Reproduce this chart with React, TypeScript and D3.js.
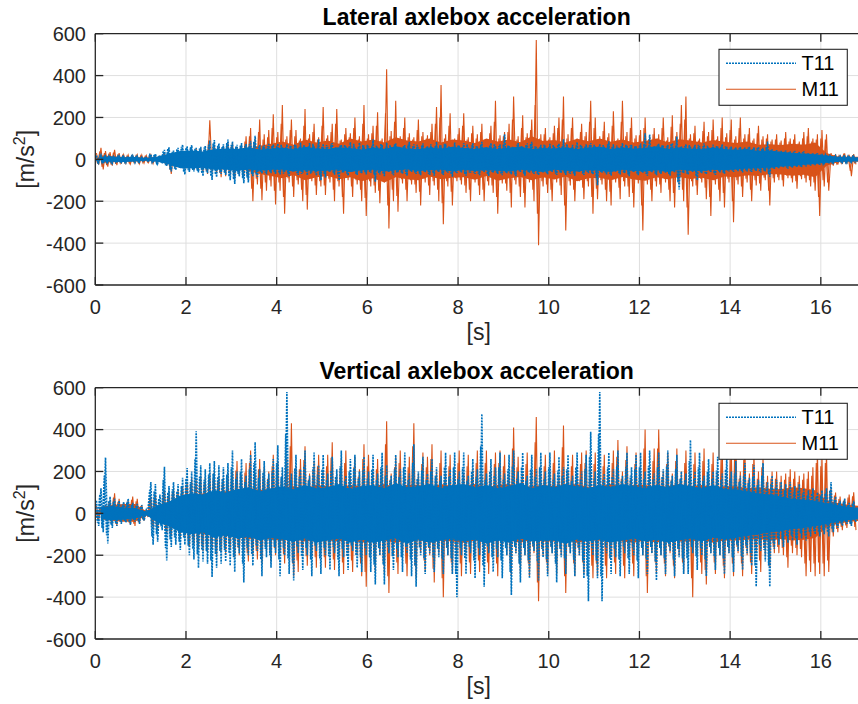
import React from 'react';
import * as d3 from 'd3';

// ---------- data ----------
const X_TICKS = [0, 2, 4, 6, 8, 10, 12, 14, 16];
const Y_TICKS = [-600, -400, -200, 0, 200, 400, 600];
const SERIES_NAMES = ['T11', 'M11'];
const PANEL_TITLES = ['Lateral axlebox acceleration', 'Vertical axlebox acceleration'];
const BIN = 0.1; // peak / mid arrays: per 0.1 s
const CORE_BIN = 0.25; // core arrays: dense band per 0.25 s

// peaks (max / min per 0.1 s)
const LAT_T11_UP = [
  18, 20, 15, 17, 14, 16, 13, 15, 17, 14,
  10, 8, 24, 27, 12, 45, 58, 42, 55, 70,
  62, 68, 55, 60, 64, 90, 92, 76, 72, 95,
  85, 70, 78, 74, 88, 112, 70, 68, 74, 72,
  75, 58, 72, 62, 66, 80, 56, 78, 62, 96,
  74, 60, 78, 55, 70, 64, 82, 58, 80, 66,
  62, 96, 58, 68, 80, 60, 76, 56, 68, 84,
  72, 58, 76, 64, 60, 82, 66, 74, 58, 80,
  66, 78, 58, 76, 62, 84, 60, 78, 64, 72,
  120, 64, 58, 78, 62, 76, 84, 60, 70, 66,
  74, 60, 76, 96, 58, 70, 82, 64, 72, 78,
  62, 74, 60, 86, 72, 58, 78, 66, 70, 64,
  76, 125, 118, 62, 74, 66, 70, 78, 109, 64,
  72, 60, 70, 64, 76, 58, 70, 62, 72, 60,
  62, 58, 60, 56, 62, 58, 60, 55, 85, 48,
  44, 40, 42, 38, 40, 36, 38, 30, 28, 30,
  26, 22, 18, 16, 15, 14, 16, 14,
];
const LAT_T11_LO = [
  -16, -19, -14, -18, -15, -13, -16, -12, -15, -13,
  -9, -7, -16, -20, -11, -32, -58, -52, -40, -72,
  -60, -58, -62, -80, -66, -98, -85, -70, -75, -100,
  -118, -82, -114, -110, -80, -84, -68, -72, -66, -70,
  -72, -60, -80, -58, -74, -64, -76, -62, -78, -100,
  -86, -60, -74, -100, -62, -78, -58, -74, -66, -72,
  -64, -107, -72, -80, -60, -76, -62, -70, -78, -60,
  -70, -76, -62, -74, -78, -60, -74, -64, -83, -66,
  -62, -78, -64, -70, -76, -60, -80, -64, -70, -76,
  -66, -72, -80, -60, -78, -64, -70, -76, -62, -72,
  -60, -74, -66, -75, -70, -78, -62, -74, -66, -72,
  -123, -64, -72, -78, -60, -72, -66, -80, -62, -76,
  -64, -78, -62, -76, -70, -64, -78, -62, -144, -66,
  -74, -62, -100, -66, -72, -60, -74, -62, -70, -58,
  -60, -56, -62, -58, -60, -56, -62, -58, -83, -46,
  -42, -38, -44, -40, -36, -38, -34, -30, -28, -26,
  -24, -20, -16, -15, -14, -16, -13, -15,
];
const LAT_M11_UP = [
  30, 55, 40, 35, 45, 30, 22, 20, 18, 22,
  20, 18, 22, 15, 14, 25, 30, 28, 35, 32,
  40, 45, 50, 55, 48, 186, 70, 60, 65, 80,
  80, 60, 70, 110, 150, 100, 190, 120, 140, 215,
  130, 260, 110, 190, 140, 100, 240, 120, 170, 105,
  250, 115, 170, 240, 95, 150, 125, 200, 110, 260,
  120, 160, 225, 100, 430, 135, 280, 110, 200, 125,
  105, 190, 130, 115, 170, 250, 355, 120, 220, 100,
  150, 220, 105, 160, 120, 170, 95, 160, 280, 115,
  130, 170, 300, 110, 210, 125, 190, 570, 120, 150,
  105, 160, 200, 300, 120, 200, 100, 170, 130, 280,
  200, 110, 180, 125, 230, 100, 280, 130, 200, 115,
  140, 200, 110, 150, 120, 200, 105, 210, 130, 260,
  300, 120, 160, 100, 180, 130, 190, 110, 200, 125,
  190, 110, 200, 120, 150, 100, 160, 110, 120, 95,
  120, 90, 130, 100, 120, 85, 130, 150, 100, 120,
  140, 120, 30, 25, 20, 28, 22, 25,
];
const LAT_M11_LO = [
  -25, -48, -35, -30, -28, -20, -18, -22, -16, -20,
  -18, -15, -20, -14, -12, -30, -70, -40, -35, -45,
  -45, -50, -55, -60, -70, -60, -65, -85, -80, -75,
  -90, -70, -80, -100, -200, -120, -195, -150, -130, -215,
  -150, -260, -110, -180, -120, -200, -240, -105, -170, -130,
  -170, -110, -200, -130, -260, -100, -180, -120, -200, -270,
  -130, -160, -210, -110, -330, -200, -250, -115, -200, -120,
  -160, -220, -110, -170, -125, -200, -310, -130, -220, -105,
  -120, -160, -200, -110, -170, -200, -125, -160, -260, -115,
  -150, -230, -120, -180, -230, -110, -200, -410, -130, -160,
  -200, -110, -170, -340, -125, -200, -105, -190, -130, -260,
  -190, -120, -200, -220, -110, -190, -130, -180, -230, -115,
  -340, -120, -200, -130, -160, -110, -200, -230, -120, -200,
  -360, -130, -170, -110, -190, -270, -120, -200, -230, -110,
  -300, -120, -180, -110, -200, -125, -150, -100, -220, -110,
  -100, -130, -90, -110, -140, -95, -110, -130, -150, -270,
  -130, -150, -30, -25, -22, -20, -80, -24,
];
const VER_T11_UP = [
  60, 120, 267, 80, 70, 60, 55, 70, 50, 45,
  40, 15, 150, 140, 90, 222, 130, 150, 140, 170,
  216, 200, 392, 230, 210, 240, 250, 230, 220, 240,
  300, 200, 260, 180, 280, 340, 210, 250, 190, 260,
  325, 220, 580, 190, 280, 210, 300, 180, 290, 230,
  280, 190, 270, 210, 300, 180, 260, 280, 200, 270,
  200, 280, 190, 290, 230, 180, 280, 210, 290, 190,
  330, 200, 270, 190, 260, 220, 180, 290, 210, 290,
  200, 290, 180, 260, 210, 475, 190, 260, 220, 290,
  190, 280, 300, 200, 290, 180, 280, 210, 290, 200,
  290, 190, 270, 220, 280, 180, 290, 200, 280, 390,
  200, 580, 190, 290, 210, 300, 180, 290, 220, 280,
  290, 200, 300, 190, 290, 210, 300, 180, 280, 200,
  190, 350, 200, 290, 180, 260, 200, 270, 190, 280,
  200, 250, 180, 240, 170, 230, 160, 240, 150, 180,
  160, 150, 140, 150, 130, 140, 120, 110, 120, 100,
  110, 120, 150, 80, 60, 70, 50, 60,
];
const VER_T11_LO = [
  -60, -90, -144, -70, -60, -50, -45, -55, -40, -50,
  -35, -15, -150, -135, -80, -225, -160, -150, -175, -150,
  -200, -220, -261, -230, -240, -304, -260, -240, -230, -250,
  -280, -190, -330, -200, -250, -180, -300, -210, -260, -190,
  -300, -200, -290, -320, -190, -270, -200, -300, -180, -290,
  -200, -270, -190, -300, -210, -270, -180, -260, -280, -200,
  -280, -340, -200, -340, -190, -270, -210, -280, -190, -300,
  -350, -200, -290, -190, -280, -210, -290, -200, -290, -400,
  -200, -290, -190, -310, -200, -350, -190, -280, -210, -310,
  -200, -390, -190, -330, -200, -310, -180, -320, -210, -300,
  -190, -330, -210, -290, -190, -300, -200, -310, -420, -200,
  -310, -420, -190, -290, -210, -300, -190, -290, -200, -310,
  -200, -290, -190, -320, -200, -290, -180, -300, -210, -290,
  -290, -190, -270, -200, -300, -190, -270, -200, -290, -190,
  -280, -180, -270, -190, -250, -350, -180, -230, -350, -170,
  -150, -160, -140, -130, -150, -120, -130, -110, -100, -110,
  -100, -110, -90, -70, -60, -50, -60, -45,
];
const VER_M11_UP = [
  35, 30, 40, 60, 96, 70, 50, 60, 80, 70,
  40, 15, 80, 90, 50, 110, 100, 120, 110, 130,
  150, 170, 160, 180, 170, 190, 200, 180, 170, 190,
  200, 250, 180, 240, 300, 190, 260, 220, 200, 280,
  250, 190, 260, 430, 220, 260, 320, 190, 250, 280,
  200, 280, 340, 190, 260, 300, 180, 270, 210, 330,
  280, 200, 260, 210, 440, 190, 270, 300, 180, 270,
  430, 190, 290, 270, 330, 200, 300, 190, 280, 200,
  300, 190, 280, 210, 300, 180, 300, 200, 290, 300,
  280, 190, 410, 270, 190, 290, 200, 460, 190, 280,
  200, 300, 180, 420, 200, 280, 190, 290, 300, 200,
  290, 200, 280, 190, 300, 350, 200, 320, 190, 290,
  200, 400, 190, 310, 400, 200, 290, 190, 310, 200,
  300, 190, 290, 200, 310, 190, 290, 200, 320, 190,
  320, 380, 200, 320, 190, 290, 200, 270, 180, 200,
  200, 180, 190, 210, 200, 180, 190, 200, 220, 300,
  280, 300, 120, 100, 80, 70, 90, 100,
];
const VER_M11_LO = [
  -30, -28, -35, -50, -60, -45, -40, -55, -60, -50,
  -35, -15, -70, -80, -40, -100, -110, -90, -120, -110,
  -160, -150, -170, -180, -190, -170, -200, -180, -190, -170,
  -210, -200, -180, -230, -200, -220, -240, -190, -230, -200,
  -190, -240, -200, -300, -280, -190, -250, -200, -260, -190,
  -260, -190, -270, -200, -290, -190, -280, -200, -300, -350,
  -190, -280, -200, -290, -380, -200, -290, -190, -300, -200,
  -310, -190, -280, -200, -330, -190, -400, -200, -290, -200,
  -300, -190, -290, -200, -280, -190, -290, -200, -300, -190,
  -200, -300, -190, -290, -200, -300, -190, -420, -200, -290,
  -190, -290, -200, -380, -190, -300, -200, -290, -190, -310,
  -300, -190, -310, -200, -290, -190, -310, -200, -300, -190,
  -200, -380, -190, -290, -200, -300, -190, -310, -200, -290,
  -190, -400, -200, -290, -340, -190, -290, -200, -310, -190,
  -300, -190, -300, -200, -290, -190, -280, -200, -260, -190,
  -190, -200, -260, -190, -200, -210, -300, -280, -300, -290,
  -300, -280, -110, -90, -80, -70, -60, -80,
];

// secondary swings (per 0.1 s, half a bin later)
const LAT_T11_MID_UP = [
  14, 16, 12, 15, 13, 14, 12, 13, 15, 12,
  8, 7, 20, 22, 10, 38, 50, 36, 48, 60,
  55, 58, 50, 52, 56, 70, 75, 65, 60, 78,
  70, 62, 66, 64, 72, 85, 60, 62, 64, 66,
  64, 70, 58, 66, 72, 60, 68, 62, 74, 66,
  60, 68, 72, 58, 66, 70, 62, 74, 60, 68,
  70, 62, 66, 74, 58, 68, 72, 60, 66, 70,
  62, 70, 66, 58, 72, 64, 68, 74, 62, 60,
  68, 60, 72, 66, 62, 70, 58, 66, 74, 64,
  72, 66, 60, 70, 64, 68, 74, 62, 58, 70,
  60, 68, 70, 64, 72, 58, 66, 70, 62, 68,
  70, 62, 68, 72, 60, 66, 64, 70, 68, 62,
  66, 72, 64, 60, 70, 68, 62, 74, 66, 60,
  64, 68, 60, 70, 62, 66, 58, 64, 60, 62,
  56, 52, 54, 50, 56, 52, 54, 50, 60, 44,
  40, 36, 38, 34, 36, 32, 34, 28, 26, 26,
  22, 20, 16, 14, 13, 12, 14, 12,
];
const LAT_T11_MID_LO = [
  -13, -15, -12, -14, -12, -11, -13, -10, -12, -11,
  -8, -6, -14, -17, -10, -28, -48, -44, -36, -60,
  -52, -50, -55, -66, -58, -80, -72, -62, -64, -82,
  -95, -70, -90, -88, -70, -72, -62, -64, -60, -62,
  -62, -68, -72, -58, -66, -70, -60, -68, -64, -74,
  -70, -58, -66, -74, -62, -68, -60, -70, -64, -62,
  -60, -72, -66, -70, -58, -68, -62, -64, -70, -56,
  -64, -68, -58, -70, -66, -56, -68, -60, -72, -62,
  -58, -70, -62, -64, -68, -56, -72, -60, -64, -70,
  -62, -66, -72, -56, -70, -60, -64, -68, -58, -66,
  -56, -68, -62, -66, -64, -70, -58, -68, -60, -66,
  -90, -60, -66, -70, -56, -66, -62, -72, -58, -70,
  -60, -70, -58, -68, -64, -60, -70, -58, -110, -62,
  -68, -58, -80, -62, -66, -56, -68, -58, -64, -54,
  -54, -52, -56, -54, -56, -52, -56, -54, -70, -42,
  -38, -34, -40, -36, -32, -34, -30, -26, -24, -22,
  -20, -18, -14, -13, -12, -14, -11, -13,
];
const LAT_M11_MID_UP = [
  22, 38, 30, 28, 32, 24, 18, 16, 15, 18,
  16, 15, 18, 12, 12, 20, 24, 22, 28, 26,
  32, 36, 40, 44, 40, 90, 55, 48, 52, 62,
  62, 50, 58, 85, 110, 80, 130, 95, 105, 150,
  105, 170, 95, 140, 110, 90, 160, 100, 130, 95,
  160, 100, 130, 170, 90, 120, 105, 150, 95, 170,
  100, 125, 160, 90, 220, 110, 180, 95, 150, 105,
  95, 140, 110, 100, 130, 170, 200, 100, 160, 90,
  120, 160, 95, 125, 100, 130, 90, 125, 180, 100,
  110, 130, 190, 95, 150, 105, 140, 260, 100, 120,
  95, 125, 150, 190, 100, 150, 90, 130, 110, 180,
  150, 95, 135, 105, 160, 90, 180, 110, 150, 100,
  115, 150, 95, 120, 100, 150, 90, 155, 110, 170,
  190, 100, 125, 90, 135, 110, 140, 95, 150, 105,
  140, 95, 150, 100, 120, 90, 125, 95, 100, 85,
  95, 80, 100, 85, 95, 75, 100, 110, 85, 95,
  100, 95, 25, 20, 17, 22, 18, 20,
];
const LAT_M11_MID_LO = [
  -20, -36, -28, -25, -22, -17, -15, -18, -13, -16,
  -15, -12, -16, -12, -10, -24, -50, -32, -28, -36,
  -36, -40, -44, -48, -55, -48, -52, -65, -62, -58,
  -70, -55, -62, -78, -140, -92, -140, -110, -100, -150,
  -110, -180, -90, -130, -100, -145, -170, -90, -125, -105,
  -125, -92, -145, -105, -180, -88, -130, -100, -145, -185,
  -105, -125, -150, -92, -220, -145, -175, -95, -145, -100,
  -120, -155, -92, -125, -105, -145, -210, -105, -155, -90,
  -100, -125, -145, -92, -125, -145, -105, -125, -180, -95,
  -115, -160, -100, -130, -160, -92, -145, -260, -105, -120,
  -145, -92, -125, -220, -105, -145, -90, -135, -105, -180,
  -140, -100, -145, -155, -92, -135, -105, -130, -160, -95,
  -220, -100, -145, -105, -120, -92, -145, -160, -100, -145,
  -230, -105, -125, -92, -135, -180, -100, -145, -160, -92,
  -200, -100, -130, -92, -145, -100, -115, -88, -150, -90,
  -85, -100, -78, -90, -105, -80, -90, -100, -110, -180,
  -100, -110, -25, -20, -18, -16, -55, -20,
];
const VER_T11_MID_UP = [
  45, 90, 180, 60, 55, 45, 42, 55, 40, 36,
  32, 12, 110, 105, 70, 160, 100, 115, 105, 130,
  165, 150, 260, 175, 160, 185, 190, 175, 165, 185,
  220, 165, 200, 150, 210, 240, 170, 195, 160, 200,
  240, 175, 380, 160, 215, 175, 225, 155, 220, 185,
  210, 160, 205, 175, 225, 155, 200, 215, 165, 205,
  165, 210, 160, 220, 180, 155, 210, 175, 220, 160,
  240, 165, 205, 160, 200, 180, 155, 220, 175, 220,
  165, 220, 155, 200, 175, 320, 160, 200, 180, 220,
  160, 210, 225, 165, 220, 155, 210, 175, 220, 165,
  220, 160, 205, 180, 210, 155, 220, 165, 210, 270,
  165, 380, 160, 220, 175, 225, 155, 220, 180, 210,
  220, 165, 225, 160, 220, 175, 225, 155, 210, 165,
  160, 250, 165, 220, 155, 200, 165, 205, 160, 210,
  165, 190, 150, 180, 145, 175, 135, 180, 125, 140,
  125, 115, 110, 115, 100, 110, 95, 85, 95, 80,
  85, 95, 110, 65, 50, 55, 40, 48,
];
const VER_T11_MID_LO = [
  -45, -70, -105, -55, -48, -40, -36, -42, -32, -38,
  -28, -12, -110, -100, -62, -165, -125, -115, -135, -115,
  -155, -170, -195, -175, -180, -225, -195, -180, -175, -190,
  -210, -160, -240, -165, -195, -155, -220, -170, -200, -160,
  -220, -165, -215, -235, -160, -205, -165, -220, -155, -215,
  -165, -205, -160, -220, -170, -205, -155, -200, -210, -165,
  -210, -245, -165, -245, -160, -205, -170, -210, -160, -220,
  -250, -165, -215, -160, -210, -170, -215, -165, -215, -290,
  -165, -215, -160, -225, -165, -250, -160, -210, -170, -225,
  -165, -280, -160, -240, -165, -225, -155, -230, -170, -220,
  -160, -240, -170, -215, -160, -220, -165, -225, -300, -165,
  -225, -300, -160, -215, -170, -220, -160, -215, -165, -225,
  -165, -215, -160, -230, -165, -215, -155, -220, -170, -215,
  -215, -160, -205, -165, -220, -160, -205, -165, -215, -160,
  -210, -150, -205, -155, -190, -250, -150, -175, -250, -140,
  -120, -125, -110, -105, -120, -95, -105, -90, -85, -90,
  -80, -90, -75, -58, -50, -42, -50, -38,
];
const VER_M11_MID_UP = [
  30, 26, 34, 50, 75, 55, 42, 50, 65, 58,
  34, 12, 65, 72, 42, 90, 82, 98, 90, 105,
  125, 140, 130, 150, 140, 155, 165, 150, 140, 155,
  165, 205, 150, 195, 240, 160, 210, 180, 165, 225,
  205, 160, 210, 320, 180, 210, 255, 160, 205, 225,
  165, 225, 265, 160, 210, 240, 150, 220, 175, 260,
  225, 165, 210, 175, 330, 160, 220, 240, 150, 220,
  320, 160, 235, 220, 260, 165, 240, 160, 225, 165,
  240, 160, 225, 175, 240, 150, 240, 165, 235, 240,
  225, 160, 310, 220, 160, 235, 165, 340, 160, 225,
  165, 240, 150, 315, 165, 225, 160, 235, 240, 165,
  235, 165, 225, 160, 240, 270, 165, 255, 160, 235,
  165, 310, 160, 250, 310, 165, 235, 160, 250, 165,
  240, 160, 235, 165, 250, 160, 235, 165, 255, 160,
  255, 290, 165, 255, 160, 235, 165, 220, 150, 165,
  165, 150, 160, 175, 165, 150, 160, 165, 180, 240,
  225, 240, 100, 85, 68, 60, 75, 82,
];
const VER_M11_MID_LO = [
  -26, -24, -30, -42, -50, -38, -34, -46, -50, -42,
  -30, -12, -58, -66, -34, -82, -90, -75, -98, -90,
  -130, -125, -140, -150, -155, -140, -165, -150, -155, -140,
  -170, -165, -150, -190, -165, -180, -195, -160, -190, -165,
  -160, -195, -165, -240, -225, -160, -205, -165, -210, -160,
  -210, -160, -220, -165, -235, -160, -225, -165, -240, -280,
  -160, -225, -165, -235, -300, -165, -235, -160, -240, -165,
  -250, -160, -225, -165, -265, -160, -310, -165, -235, -165,
  -240, -160, -235, -165, -225, -160, -235, -165, -240, -160,
  -165, -240, -160, -235, -165, -240, -160, -330, -165, -235,
  -160, -235, -165, -300, -160, -240, -165, -235, -160, -250,
  -240, -160, -250, -165, -235, -160, -250, -165, -240, -160,
  -165, -300, -160, -235, -165, -240, -160, -250, -165, -235,
  -160, -310, -165, -235, -270, -160, -235, -165, -250, -160,
  -240, -160, -240, -165, -235, -160, -225, -165, -210, -160,
  -160, -165, -210, -155, -165, -170, -240, -225, -240, -235,
  -240, -225, -90, -75, -65, -58, -50, -65,
];

// dense core band, per 0.25 s
const LAT_T11_CORE_UP = [
  12, 14, 10, 11, 6, 14, 28, 40, 42, 38, 48, 52, 50, 58, 46, 52, 55, 48, 60, 52,
  50, 58, 54, 46, 56, 50, 62, 52, 48, 56, 52, 60, 54, 50, 58, 48, 56, 60, 50, 54,
  52, 58, 48, 56, 60, 50, 56, 52, 54, 62, 50, 56, 52, 48, 56, 50, 46, 50, 40, 42,
  36, 30, 28, 24, 18, 12, 10, 10,
];
const LAT_T11_CORE_LO = [
  -12, -11, -13, -10, -6, -12, -25, -42, -44, -40, -50, -48, -56, -48, -54, -50, -50, -58, -52, -56,
  -54, -48, -60, -52, -50, -58, -52, -48, -56, -52, -50, -58, -50, -56, -52, -54, -58, -50, -54, -60,
  -50, -54, -58, -52, -54, -60, -50, -56, -58, -52, -60, -50, -54, -56, -50, -52, -48, -44, -42, -40,
  -34, -32, -26, -22, -16, -12, -10, -10,
];
const LAT_M11_CORE_UP = [
  20, 15, 10, 10, 8, 10, 14, 18, 20, 24, 30, 35, 40, 50, 65, 75, 85, 70, 95, 80,
  90, 75, 100, 85, 95, 80, 105, 90, 85, 100, 80, 95, 90, 78, 100, 85, 95, 82, 110, 88,
  92, 80, 98, 86, 100, 84, 95, 80, 88, 100, 82, 96, 90, 80, 92, 84, 78, 85, 70, 72,
  68, 75, 70, 80, 30, 14, 12, 12,
];
const LAT_M11_CORE_LO = [
  -18, -14, -10, -10, -8, -10, -16, -20, -22, -26, -32, -38, -45, -55, -70, -80, -90, -75, -100, -85,
  -80, -95, -85, -105, -90, -110, -85, -95, -100, -82, -95, -88, -85, -98, -80, -102, -90, -84, -100, -86,
  -96, -82, -104, -90, -88, -100, -84, -96, -102, -86, -95, -84, -94, -88, -100, -82, -85, -76, -80, -70,
  -72, -78, -74, -85, -30, -14, -12, -12,
];
const VER_T11_CORE_UP = [
  30, 35, 28, 25, 8, 40, 55, 85, 95, 90, 110, 100, 115, 125, 105, 120, 130, 115, 135, 120,
  125, 140, 115, 130, 135, 120, 145, 125, 130, 140, 120, 135, 140, 125, 135, 120, 130, 145, 120, 135,
  125, 140, 130, 120, 135, 125, 140, 130, 120, 135, 125, 140, 130, 120, 135, 115, 115, 105, 95, 90,
  80, 70, 65, 60, 50, 40, 30, 28,
];
const VER_T11_CORE_LO = [
  -28, -32, -30, -24, -8, -45, -62, -90, -100, -92, -115, -105, -120, -112, -130, -118, -125, -135, -120, -140,
  -130, -120, -140, -125, -140, -130, -120, -145, -125, -140, -130, -120, -135, -125, -145, -130, -140, -120, -135, -130,
  -130, -145, -125, -135, -125, -140, -130, -120, -135, -125, -140, -130, -120, -135, -115, -125, -118, -108, -100, -92,
  -84, -75, -70, -62, -52, -40, -32, -28,
];
const VER_M11_CORE_UP = [
  30, 40, 45, 45, 10, 30, 50, 70, 88, 95, 100, 105, 110, 122, 112, 118, 125, 130, 120, 135,
  130, 125, 135, 130, 130, 140, 125, 135, 135, 125, 140, 130, 130, 140, 125, 135, 140, 125, 130, 135,
  130, 135, 140, 125, 130, 140, 125, 135, 135, 125, 130, 140, 130, 135, 125, 130, 130, 120, 125, 118,
  115, 125, 120, 110, 62, 50, 40, 36,
];
const VER_M11_CORE_LO = [
  -28, -35, -40, -40, -10, -30, -50, -75, -88, -100, -96, -108, -112, -122, -118, -126, -130, -122, -135, -126,
  -130, -135, -126, -140, -135, -130, -140, -130, -126, -140, -130, -135, -140, -130, -135, -126, -130, -140, -126, -135,
  -135, -130, -140, -130, -130, -126, -135, -140, -130, -140, -126, -135, -135, -126, -140, -130, -130, -126, -122, -130,
  -122, -130, -126, -118, -66, -50, -40, -36,
];

// ---------- layout ----------
const W = 858;
const H = 704;
const LEFT = 95.3;
const RIGHT = 858;
const X_MAX = 16.82;
const BLUE = '#0072BD';
const ORANGE = '#D95319';
const AXIS = '#262626';
const GRID = '#dfdfdf';
const FONT = '"Liberation Sans", Arial, Helvetica, sans-serif';
const TICK_FS = 20;
const LABEL_FS = 23;

const PANELS = [
  {
    title: PANEL_TITLES[0], top: 33.7, bottom: 285,
    t11: [LAT_T11_UP, LAT_T11_LO], m11: [LAT_M11_UP, LAT_M11_LO],
    t11Mid: [LAT_T11_MID_UP, LAT_T11_MID_LO], m11Mid: [LAT_M11_MID_UP, LAT_M11_MID_LO],
    t11Core: [LAT_T11_CORE_UP, LAT_T11_CORE_LO], m11Core: [LAT_M11_CORE_UP, LAT_M11_CORE_LO],
  },
  {
    title: PANEL_TITLES[1], top: 387.7, bottom: 639,
    t11: [VER_T11_UP, VER_T11_LO], m11: [VER_M11_UP, VER_M11_LO],
    t11Mid: [VER_T11_MID_UP, VER_T11_MID_LO], m11Mid: [VER_M11_MID_UP, VER_M11_MID_LO],
    t11Core: [VER_T11_CORE_UP, VER_T11_CORE_LO], m11Core: [VER_M11_CORE_UP, VER_M11_CORE_LO],
  },
];

// time stamps of the swings inside each 0.1 s bin
function samples(up: number[], lo: number[], offset: number): [number, number][] {
  const pts: [number, number][] = [];
  up.forEach((u, i) => {
    pts.push([i * BIN + offset, u]);
    pts.push([i * BIN + offset + BIN / 2, lo[i]]);
  });
  return pts;
}

function coreRows(up: number[], lo: number[]): [number, number, number][] {
  return up.map((u, k) => [k * CORE_BIN + CORE_BIN / 2, u, lo[k]]);
}

function Panel({ p, idx }: { p: any; idx: number }) {
  const x = d3.scaleLinear().domain([0, X_MAX]).range([LEFT, RIGHT]);
  const y = d3.scaleLinear().domain([-600, 600]).range([p.bottom, p.top]);
  const line = d3.line<[number, number]>().x((d) => x(d[0])).y((d) => y(d[1]));
  const area = d3
    .area<[number, number, number]>()
    .x((d) => x(d[0]))
    .y0((d) => y(d[2]))
    .y1((d) => y(d[1]));
  const clipId = `clip${idx}`;
  const legL = 719, legR = 847.3, legT = p.top + 15.6, legB = p.top + 71.6;
  const tickLen = 8;
  return (
    <g>
      <defs>
        <clipPath id={clipId}>
          <rect x={LEFT} y={p.top} width={RIGHT - LEFT} height={p.bottom - p.top} />
        </clipPath>
      </defs>
      {/* grid */}
      {X_TICKS.filter((t) => t > 0).map((t) => (
        <line key={'gx' + t} x1={x(t)} x2={x(t)} y1={p.top} y2={p.bottom} stroke={GRID} strokeWidth={1} />
      ))}
      {Y_TICKS.filter((t) => t > -600 && t < 600).map((t) => (
        <line key={'gy' + t} x1={LEFT} x2={RIGHT} y1={y(t)} y2={y(t)} stroke={GRID} strokeWidth={1} />
      ))}
      {/* data */}
      <g clipPath={`url(#${clipId})`}>
        <path d={area(coreRows(p.m11Core[0], p.m11Core[1])) || ''} fill={ORANGE} />
        <path d={line(samples(p.m11[0], p.m11[1], BIN * 0.25)) || ''} fill="none" stroke={ORANGE} strokeWidth={1.1} />
        <path d={line(samples(p.m11Mid[0], p.m11Mid[1], 0)) || ''} fill="none" stroke={ORANGE} strokeWidth={1.1} />
        <path d={area(coreRows(p.t11Core[0], p.t11Core[1])) || ''} fill={BLUE} />
        <path d={line(samples(p.t11[0], p.t11[1], BIN * 0.25)) || ''} fill="none" stroke={BLUE} strokeWidth={1.6} strokeDasharray="2 1" />
        <path d={line(samples(p.t11Mid[0], p.t11Mid[1], 0)) || ''} fill="none" stroke={BLUE} strokeWidth={1.6} strokeDasharray="2 1" />
      </g>
      {/* axes */}
      <line x1={LEFT} x2={RIGHT} y1={p.top} y2={p.top} stroke={AXIS} strokeWidth={1.3} />
      <line x1={LEFT} x2={RIGHT} y1={p.bottom} y2={p.bottom} stroke={AXIS} strokeWidth={1.3} />
      <line x1={LEFT} x2={LEFT} y1={p.top} y2={p.bottom} stroke={AXIS} strokeWidth={1.3} />
      {X_TICKS.map((t) => (
        <g key={'xt' + t}>
          <line x1={x(t)} x2={x(t)} y1={p.bottom} y2={p.bottom - tickLen} stroke={AXIS} strokeWidth={1.3} />
          <line x1={x(t)} x2={x(t)} y1={p.top} y2={p.top + tickLen} stroke={AXIS} strokeWidth={1.3} />
          <text x={x(t)} y={p.bottom + 29} textAnchor="middle" fontSize={TICK_FS} fill={AXIS} fontFamily={FONT}>
            {t}
          </text>
        </g>
      ))}
      {Y_TICKS.map((t) => (
        <g key={'yt' + t}>
          <line x1={LEFT} x2={LEFT + tickLen} y1={y(t)} y2={y(t)} stroke={AXIS} strokeWidth={1.3} />
          <text x={86} y={y(t) + 7.5} textAnchor="end" fontSize={TICK_FS} fill={AXIS} fontFamily={FONT}>
            {t}
          </text>
        </g>
      ))}
      {/* labels */}
      <text x={(LEFT + RIGHT) / 2} y={p.top - 9} textAnchor="middle" fontSize={LABEL_FS} fontWeight="bold" fill="#000" fontFamily={FONT}>
        {p.title}
      </text>
      <text x={(LEFT + RIGHT) / 2 + 2} y={p.bottom + 55} textAnchor="middle" fontSize={LABEL_FS} fill={AXIS} fontFamily={FONT}>
        [s]
      </text>
      <text transform={`translate(34,${(p.top + p.bottom) / 2}) rotate(-90)`} textAnchor="middle" fontSize={LABEL_FS} fill={AXIS} fontFamily={FONT}>
        [m/s<tspan dy={-9} fontSize={16}>2</tspan><tspan dy={9}>]</tspan>
      </text>
      {/* legend */}
      <rect x={legL} y={legT} width={legR - legL} height={legB - legT} fill="#fff" stroke={AXIS} strokeWidth={1.1} />
      <line x1={726} x2={796} y1={legT + 14} y2={legT + 14} stroke={BLUE} strokeWidth={1.6} strokeDasharray="2 1" />
      <line x1={726} x2={796} y1={legT + 40} y2={legT + 40} stroke={ORANGE} strokeWidth={1.1} />
      <text x={801.5} y={legT + 21} fontSize={20} fill="#000" fontFamily={FONT}>{SERIES_NAMES[0]}</text>
      <text x={801.5} y={legT + 47} fontSize={20} fill="#000" fontFamily={FONT}>{SERIES_NAMES[1]}</text>
    </g>
  );
}

export default function App() {
  return (
    <div style={{ position: 'absolute', left: 0, top: 0 }}>
      <svg width={W} height={H} viewBox={`0 0 ${W} ${H}`} style={{ display: 'block', background: '#fff' }}>
        <rect x={0} y={0} width={W} height={H} fill="#fff" />
        {PANELS.map((p, i) => (
          <Panel key={i} p={p} idx={i} />
        ))}
      </svg>
    </div>
  );
}
